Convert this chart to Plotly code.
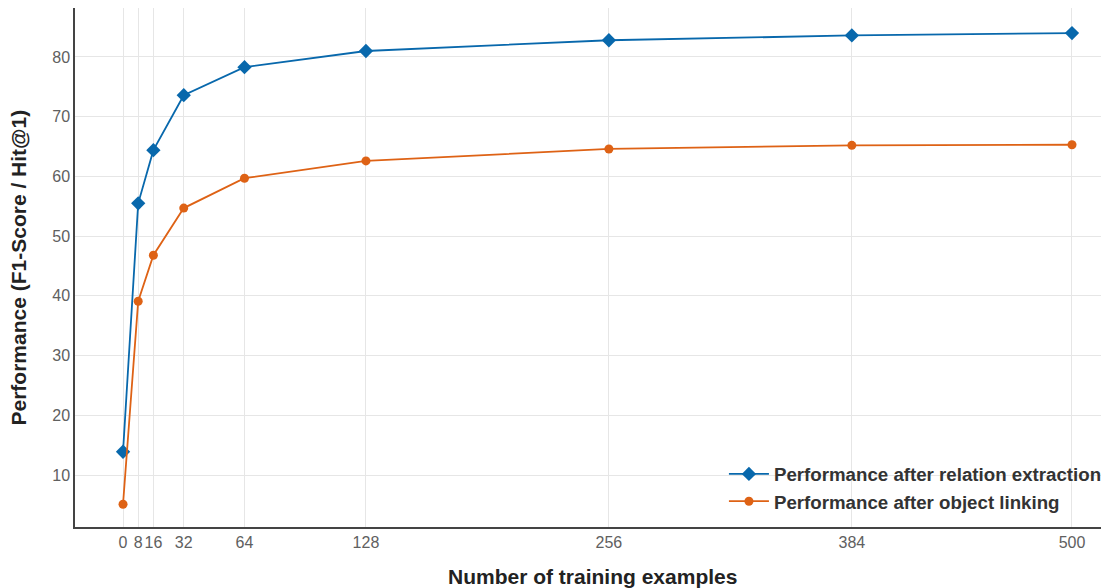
import plotly.graph_objects as go

x_vals = [0, 8, 16, 32, 64, 128, 256, 384, 500]
relation_extraction = [13.9, 55.5, 64.4, 73.6, 78.3, 81.0, 82.8, 83.6, 84.0]
object_linking = [5.1, 39.1, 46.8, 54.7, 59.7, 62.6, 64.6, 65.2, 65.3]
x_ticks = [0, 8, 16, 32, 64, 128, 256, 384, 500]
y_ticks = [10, 20, 30, 40, 50, 60, 70, 80]

FONT = "Arial, Liberation Sans, sans-serif"

fig = go.Figure()
fig.add_trace(go.Scatter(
    x=x_vals, y=relation_extraction, mode="lines+markers",
    name="Performance after relation extraction",
    line=dict(color="#0868AC", width=1.8),
    marker=dict(symbol="diamond", size=11, color="#0868AC"),
))
fig.add_trace(go.Scatter(
    x=x_vals, y=object_linking, mode="lines+markers",
    name="Performance after object linking",
    line=dict(color="#DE6215", width=1.8),
    marker=dict(symbol="circle", size=9, color="#DE6215"),
))

fig.update_layout(
    width=1101, height=580,
    margin=dict(l=67, r=0, t=0, b=61, autoexpand=False),
    plot_bgcolor="white", paper_bgcolor="white",
    font=dict(family=FONT, color="#555555", size=16),
    legend=dict(
        x=0.998, xanchor="right", y=0.013, yanchor="bottom",
        bgcolor="rgba(0,0,0,0)",
        font=dict(family=FONT, size=18.7, color="#333333", weight="bold"),
        itemwidth=40,
        tracegroupgap=0,
    ),
    xaxis=dict(
        range=[-25.3, 519.5], automargin=False,
        tickmode="array", tickvals=x_ticks, ticktext=[str(t) for t in x_ticks],
        tickangle=0,
        showgrid=True, gridcolor="#E6E6E6", gridwidth=1,
        showline=True, linecolor="#444444", linewidth=1.5, mirror=True,
        zeroline=False, ticks="", ticklen=0,
        tickfont=dict(size=16, color="#606060"),
    ),
    yaxis=dict(
        range=[1.3, 88.2], automargin=False,
        tickmode="array", tickvals=y_ticks,
        showgrid=True, gridcolor="#E6E6E6", gridwidth=1,
        showline=True, linecolor="#444444", linewidth=1.5,
        zeroline=False, ticks="", ticklen=0,
        tickfont=dict(size=16, color="#606060"),
    ),
    annotations=[
        dict(text="<b>Number of training examples</b>", xref="paper", yref="paper",
             x=0.5, y=-0.0963, xanchor="center", yanchor="middle", showarrow=False,
             font=dict(family=FONT, size=21, color="#222222")),
        dict(text="<b>Performance (F1-Score / Hit@1)</b>", xref="paper", yref="paper",
             x=-0.0551, y=0.5, xanchor="center", yanchor="middle", showarrow=False,
             textangle=-90, font=dict(family=FONT, size=21, color="#222222")),
    ],
)

fig.write_html("out.html")
